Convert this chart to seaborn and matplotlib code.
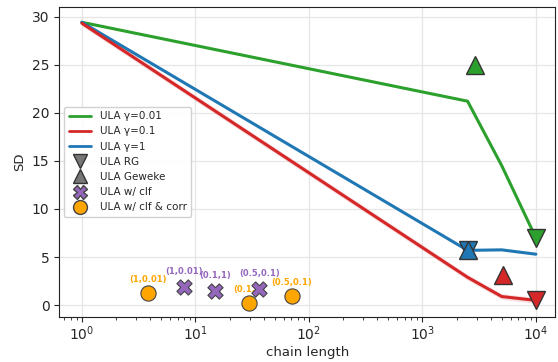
import numpy as np
import pandas as pd
import seaborn as sns
import matplotlib.pyplot as plt
from matplotlib.lines import Line2D

# ULA curves: SD vs chain length
chain = [1, 2500, 5000, 10000]
sd_g001 = [29.4, 21.2, 14.5, 7.0]
sd_g01 = [29.3, 2.9, 0.9, 0.5]
sd_g1 = [29.4, 5.7, 5.75, 5.3]
band_g01 = 0.3  # half-width of faint band around gamma=0.1

# stopping points (x, y) per gamma
rg_x = [10000, 10000, 2500]
rg_y = [7.0, 0.5, 5.7]
gw_x = [2900, 5100, 2500]
gw_y = [25.0, 3.1, 5.7]
series_colors = ["#2ca02c", "#d62728", "#1f77b4"]

# classifier based stopping
clf_x = [8.0, 14.8, 36.5]
clf_y = [1.85, 1.45, 1.65]
clf_lab = ["(1,0.01)", "(0.1,1)", "(0.5,0.1)"]
corr_x = [3.8, 29.5, 71.0]
corr_y = [1.3, 0.2, 1.0]
corr_lab = ["(1,0.01)", "(0.1,1)", "(0.5,0.1)"]

sns.set_style("ticks")
plt.rcParams["font.family"] = ["DejaVu Sans"]
plt.rcParams["axes.edgecolor"] = "#222222"

fig, ax = plt.subplots(figsize=(5.58, 3.62), dpi=100)
ax.grid(True, color="#e6e6e6", linewidth=0.9)
ax.set_axisbelow(True)

df = pd.DataFrame({"chain": chain, "g001": sd_g001, "g01": sd_g01, "g1": sd_g1})
ax.fill_between(df["chain"], np.array(sd_g01) - band_g01, np.array(sd_g01) + band_g01,
                color="#d62728", alpha=0.15, linewidth=0)
sns.lineplot(data=df, x="chain", y="g001", color=series_colors[0], linewidth=2.2, ax=ax)
sns.lineplot(data=df, x="chain", y="g1", color=series_colors[2], linewidth=2.2, ax=ax)
sns.lineplot(data=df, x="chain", y="g01", color=series_colors[1], linewidth=2.2, ax=ax)

for i in range(3):
    ax.plot(rg_x[i], rg_y[i], marker="v", markersize=12.5, color=series_colors[i],
            markeredgecolor="#333333", markeredgewidth=1, zorder=5)
    ax.plot(gw_x[i], gw_y[i], marker="^", markersize=12.5, color=series_colors[i],
            markeredgecolor="#333333", markeredgewidth=1, zorder=5)

sns.scatterplot(x=clf_x, y=clf_y, marker="X", s=120, color="#9467bd",
                edgecolor="#444444", linewidth=0.8, zorder=6, ax=ax)
sns.scatterplot(x=corr_x, y=corr_y, marker="o", s=120, color="#ffa500",
                edgecolor="#444444", linewidth=0.8, zorder=6, ax=ax)

for x, y, t in zip(clf_x, clf_y, clf_lab):
    ax.annotate(t, (x, y), xytext=(0, 8), textcoords="offset points", ha="center",
                va="bottom", fontsize=6, fontweight="bold", color="#9467bd")
for x, y, t in zip(corr_x, corr_y, corr_lab):
    ax.annotate(t, (x, y), xytext=(0, 6.5), textcoords="offset points", ha="center",
                va="bottom", fontsize=6, fontweight="bold", color="#ffa500")

ax.set_xscale("log")
ax.set_xlim(10 ** -0.2, 10 ** 4.17)
ax.set_ylim(-1.2, 31)
ax.set_xlabel("chain length", fontsize=9.5, labelpad=2)
ax.set_ylabel("SD", fontsize=9.5)
ax.tick_params(labelsize=10)
ax.tick_params(axis="x", pad=2)

handles = [
    Line2D([], [], color=series_colors[0], linewidth=2, label="ULA γ=0.01"),
    Line2D([], [], color=series_colors[1], linewidth=2, label="ULA γ=0.1"),
    Line2D([], [], color=series_colors[2], linewidth=2, label="ULA γ=1"),
    Line2D([], [], color="#777777", marker="v", linestyle="", markersize=10,
           markeredgecolor="#333333", label="ULA RG"),
    Line2D([], [], color="#777777", marker="^", linestyle="", markersize=10,
           markeredgecolor="#333333", label="ULA Geweke"),
    Line2D([], [], color="#9467bd", marker="X", linestyle="", markersize=10,
           markeredgecolor="#444444", label="ULA w/ clf"),
    Line2D([], [], color="#ffa500", marker="o", linestyle="", markersize=10,
           markeredgecolor="#444444", label="ULA w/ clf & corr"),
]
ax.legend(handles=handles, loc="center left", fontsize=7.5, handlelength=2.2,
          labelspacing=0.5, borderpad=0.4, framealpha=0.9)

fig.subplots_adjust(left=0.106, right=0.995, top=0.981, bottom=0.125)
plt.savefig("out.png", dpi=100)
